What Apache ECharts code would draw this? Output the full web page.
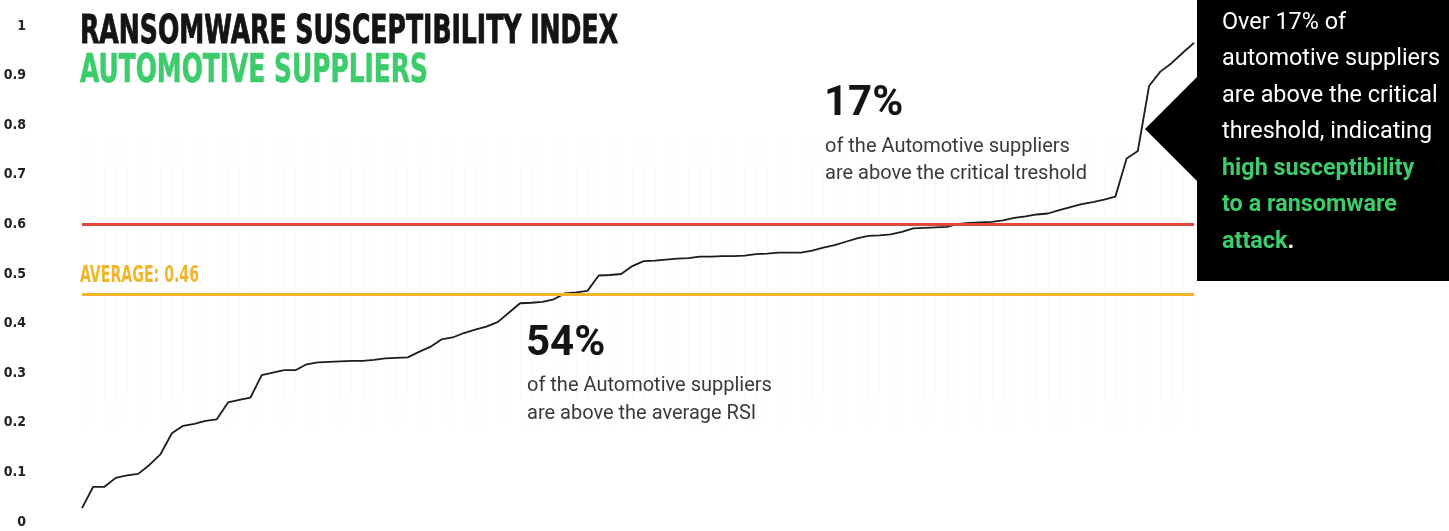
<!DOCTYPE html>
<html>
<head>
<meta charset="utf-8">
<script src="https://cdn.jsdelivr.net/npm/echarts@6/dist/echarts.min.js"></script>
<style>
  html, body { margin: 0; padding: 0; background: #ffffff; }
  #chart { width: 1449px; height: 531px; }
</style>
</head>
<body>
<div id="chart"></div>
<script>
// Suppliers ranked by Ransomware Susceptibility Index (RSI), lowest to highest
const supplierRank = [
  1,2,3,4,5,6,7,8,9,10,11,12,13,14,15,16,17,18,19,20,
  21,22,23,24,25,26,27,28,29,30,31,32,33,34,35,36,37,38,39,40,
  41,42,43,44,45,46,47,48,49,50,51,52,53,54,55,56,57,58,59,60,
  61,62,63,64,65,66,67,68,69,70,71,72,73,74,75,76,77,78,79,80,
  81,82,83,84,85,86,87,88,89,90,91,92,93,94,95,96,97,98,99,100
];

const rsiValues = [
  0.028, 0.071, 0.071, 0.089, 0.094, 0.097, 0.115, 0.137, 0.179, 0.194,
  0.198, 0.204, 0.207, 0.241, 0.246, 0.251, 0.296, 0.301, 0.306, 0.306,
  0.318, 0.322, 0.323, 0.324, 0.325, 0.325, 0.327, 0.330, 0.331, 0.332,
  0.343, 0.353, 0.368, 0.372, 0.381, 0.388, 0.394, 0.403, 0.422, 0.441,
  0.442, 0.444, 0.449, 0.461, 0.463, 0.466, 0.497, 0.498, 0.500, 0.516,
  0.526, 0.527, 0.529, 0.531, 0.532, 0.535, 0.535, 0.536, 0.536, 0.537,
  0.540, 0.541, 0.543, 0.543, 0.543, 0.547, 0.553, 0.558, 0.565, 0.572,
  0.577, 0.578, 0.580, 0.585, 0.592, 0.593, 0.594, 0.595, 0.601, 0.603,
  0.604, 0.605, 0.608, 0.613, 0.616, 0.620, 0.622, 0.629, 0.635, 0.641,
  0.645, 0.650, 0.656, 0.733, 0.748, 0.879, 0.908, 0.925, 0.946, 0.966
];

const yTickValues = [0, 0.1, 0.2, 0.3, 0.4, 0.5, 0.6, 0.7, 0.8, 0.9, 1];
const yTickLabels = ['0', '0.1', '0.2', '0.3', '0.4', '0.5', '0.6', '0.7', '0.8', '0.9', '1'];

const averageRsi = 0.46;
const criticalThreshold = 0.6;

const titleText = 'RANSOMWARE SUSCEPTIBILITY INDEX';
const subtitleText = 'AUTOMOTIVE SUPPLIERS';
const averageLabel = 'AVERAGE: 0.46';

const aboveAverageShare = '54%';
const aboveAverageLines = ['of the Automotive suppliers', 'are above the average RSI'];
const aboveCriticalShare = '17%';
const aboveCriticalLines = ['of the Automotive suppliers', 'are above the critical treshold'];

const calloutLines = [
  { text: 'Over 17% of', accent: false },
  { text: 'automotive suppliers', accent: false },
  { text: 'are above the critical', accent: false },
  { text: 'threshold, indicating', accent: false },
  { text: 'high susceptibility', accent: true },
  { text: 'to a ransomware', accent: true },
  { text: 'attack', accent: true, tail: '.' }
];

// ---- styling ----
const INK = '#141414';
const GREEN = '#3dcc6c';
const YELLOW = '#f2b52a';
const RED = '#e2473c';
const CONDENSED = '"Liberation Sans Narrow", "DejaVu Sans Condensed", "Roboto", sans-serif';
const SANS = 'Roboto, "Noto Sans", sans-serif';

const measureCtx = document.createElement('canvas').getContext('2d');
function textWidth(text, weight, size, family) {
  measureCtx.font = weight + ' ' + size + 'px ' + family;
  return measureCtx.measureText(text).width;
}
// horizontal squeeze so a heading spans a given width
function squeeze(text, weight, size, family, width) {
  return width / textWidth(text, weight, size, family);
}

const titleScale = squeeze(titleText, 'bold', 39, CONDENSED, 538);
const subtitleScale = squeeze(subtitleText, 'bold', 39, CONDENSED, 348);
const avgScale = squeeze(averageLabel, 'bold', 23, CONDENSED, 119);
const calloutScale = squeeze('automotive suppliers', 'normal', 23, SANS, 218);

const graphics = [];

graphics.push({
  type: 'text', x: 80, y: 33, scaleX: titleScale, z: 20,
  style: { text: titleText, fontFamily: CONDENSED, fontWeight: 'bold', fontSize: 39,
           fill: INK, stroke: INK, lineWidth: 0.9, verticalAlign: 'middle', align: 'left' }
});
graphics.push({
  type: 'text', x: 80, y: 72, scaleX: subtitleScale, z: 20,
  style: { text: subtitleText, fontFamily: CONDENSED, fontWeight: 'bold', fontSize: 39,
           fill: GREEN, stroke: GREEN, lineWidth: 0.6, verticalAlign: 'middle', align: 'left' }
});
graphics.push({
  type: 'text', x: 80, y: 276, scaleX: avgScale, z: 20,
  style: { text: averageLabel, fontFamily: CONDENSED, fontWeight: 'bold', fontSize: 23,
           fill: YELLOW, verticalAlign: 'middle', align: 'left' }
});

// annotation: share above average
graphics.push({
  type: 'text', x: 526, y: 344, z: 20,
  style: { text: aboveAverageShare, fontFamily: SANS, fontWeight: 'bold', fontSize: 42,
           fill: INK, verticalAlign: 'middle', align: 'left' }
});
aboveAverageLines.forEach((t, i) => graphics.push({
  type: 'text', x: 527, y: 386 + i * 28, z: 20,
  style: { text: t, fontFamily: SANS, fontSize: 20, fill: '#3a3a3a',
           verticalAlign: 'middle', align: 'left' }
}));

// annotation: share above critical threshold
graphics.push({
  type: 'text', x: 824, y: 104, z: 20,
  style: { text: aboveCriticalShare, fontFamily: SANS, fontWeight: 'bold', fontSize: 42,
           fill: INK, verticalAlign: 'middle', align: 'left' }
});
aboveCriticalLines.forEach((t, i) => graphics.push({
  type: 'text', x: 825, y: 147 + i * 27, z: 20,
  style: { text: t, fontFamily: SANS, fontSize: 20, fill: '#3a3a3a',
           verticalAlign: 'middle', align: 'left' }
}));

// black callout panel with pointer
graphics.push({
  type: 'rect', z: 30, shape: { x: 1197, y: 0, width: 252, height: 281 },
  style: { fill: '#000000' }
});
graphics.push({
  type: 'polygon', z: 30, shape: { points: [[1198, 76], [1145, 129], [1198, 182]] },
  style: { fill: '#000000' }
});
calloutLines.forEach((line, i) => {
  const base = { fontFamily: SANS, fontSize: 23, fill: line.accent ? GREEN : '#ffffff',
                 fontWeight: line.accent ? 'bold' : 'normal' };
  graphics.push({
    type: 'text', x: 1222, y: 23 + i * 36.5, scaleX: calloutScale, z: 31,
    style: {
      text: line.tail ? '{a|' + line.text + '}{w|' + line.tail + '}' : line.text,
      fontFamily: base.fontFamily, fontSize: base.fontSize, fontWeight: base.fontWeight,
      fill: base.fill, verticalAlign: 'middle', align: 'left',
      rich: line.tail ? {
        a: { fontFamily: SANS, fontSize: 23, fontWeight: 'bold', fill: GREEN },
        w: { fontFamily: SANS, fontSize: 23, fontWeight: 'bold', fill: '#ffffff' }
      } : undefined
    }
  });
});

const chart = echarts.init(document.getElementById('chart'), null, { renderer: 'canvas' });

chart.setOption({
  animation: false,
  backgroundColor: '#ffffff',
  grid: { left: 82, right: 255, top: 26, bottom: 9, containLabel: false },
  xAxis: {
    type: 'category',
    data: supplierRank,
    boundaryGap: false,
    axisLine: { show: false },
    axisTick: { show: false },
    axisLabel: { show: false },
    splitLine: {
      show: true,
      interval: 0,
      lineStyle: {
        width: 1,
        color: {
          type: 'linear', x: 0, y: 0, x2: 0, y2: 531, global: true,
          colorStops: [
            { offset: 0.0, color: 'rgba(0,0,0,0)' },
            { offset: 0.22, color: 'rgba(0,0,0,0)' },
            { offset: 0.32, color: 'rgba(0,0,0,0.02)' },
            { offset: 0.74, color: 'rgba(0,0,0,0.02)' },
            { offset: 0.84, color: 'rgba(0,0,0,0)' },
            { offset: 1.0, color: 'rgba(0,0,0,0)' }
          ]
        }
      }
    }
  },
  yAxis: {
    type: 'value',
    min: 0,
    max: 1,
    interval: 0.1,
    axisLine: { show: false },
    axisTick: { show: false },
    splitLine: { show: false },
    axisLabel: {
      margin: 56,
      align: 'right',
      fontFamily: CONDENSED,
      fontWeight: 'bold',
      fontSize: 14,
      color: '#222222',
      formatter: v => {
        const idx = yTickValues.findIndex(t => Math.abs(t - v) < 1e-6);
        return idx >= 0 ? yTickLabels[idx] : '';
      }
    }
  },
  series: [{
    type: 'line',
    data: rsiValues,
    symbol: 'none',
    smooth: false,
    z: 3,
    lineStyle: { color: '#1c1c1c', width: 1.8 },
    markLine: {
      silent: true,
      symbol: 'none',
      z: 5,
      label: { show: false },
      data: [
        { yAxis: averageRsi, lineStyle: { color: YELLOW, width: 3, type: 'solid' } },
        { yAxis: criticalThreshold, lineStyle: { color: RED, width: 3, type: 'solid' } }
      ]
    }
  }],
  graphic: graphics
});
</script>
</body>
</html>
